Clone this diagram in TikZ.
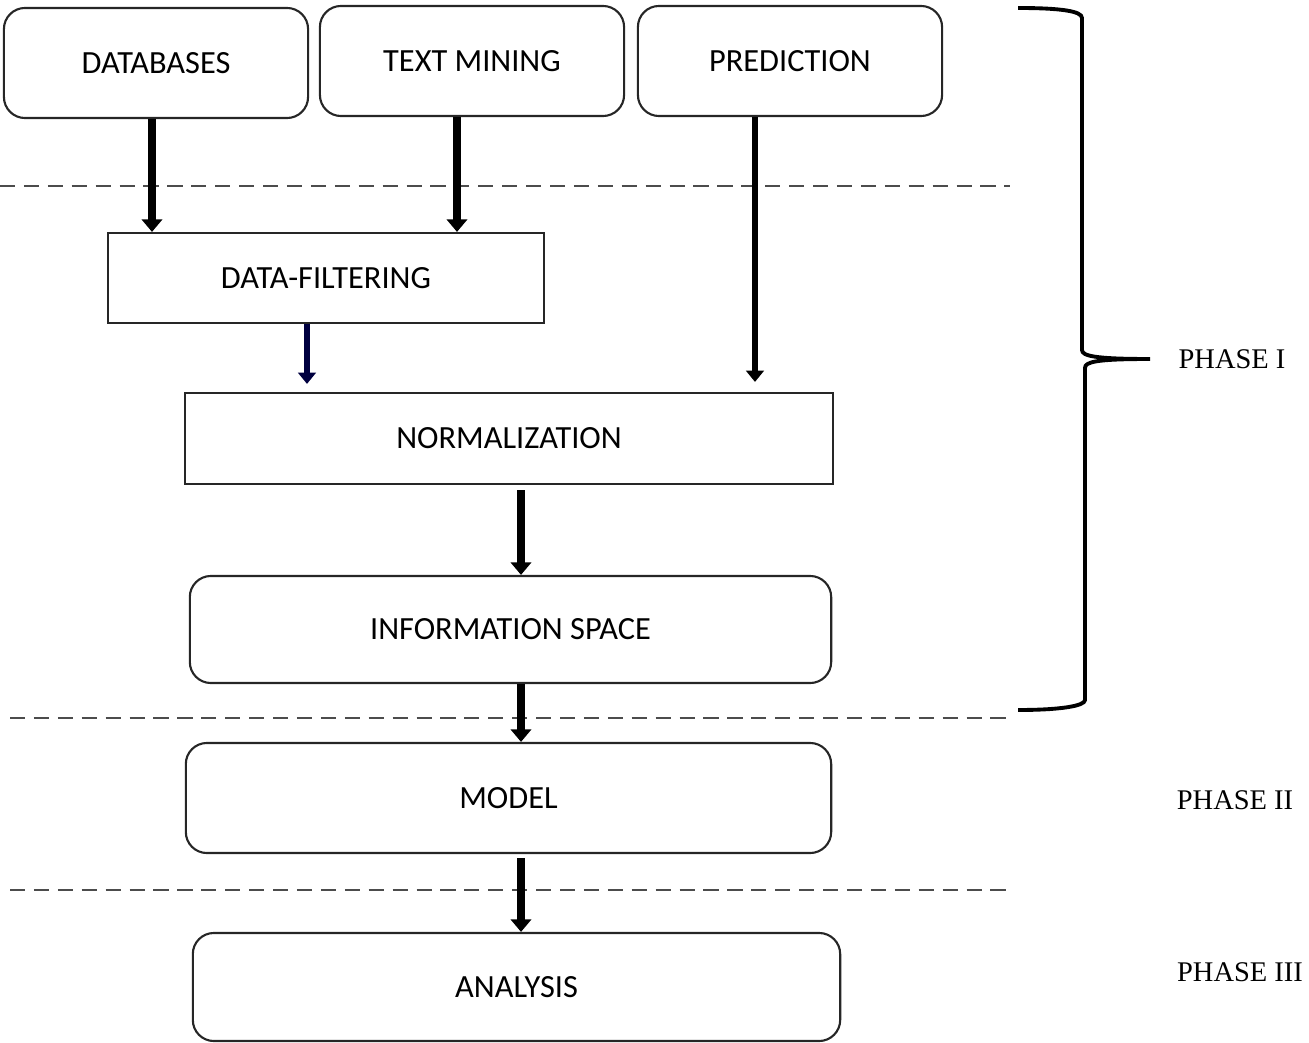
\documentclass[tikz,border=0pt]{standalone}
\usepackage{fontspec}
\setmainfont{Carlito}
\newfontfamily\phasefont{Liberation Serif}
\usetikzlibrary{arrows.meta}

\begin{document}
\begin{tikzpicture}[x=0.01cm,y=-0.01cm,
    round box/.style={draw=black!85,line width=0.6pt,rounded corners=6pt,inner sep=0pt,font=\fontsize{9.2}{11}\selectfont},
    flat box/.style={draw=black!85,line width=0.6pt,inner sep=0pt,font=\fontsize{9.2}{11}\selectfont},
    big arrow/.style={line width=2.3pt,-{Triangle[width=5.8pt,length=3.6pt]}},
    small arrow/.style={line width=1.6pt,-{Triangle[width=5pt,length=3.2pt]}},
    phase line/.style={draw=black!70,line width=0.75pt,dash pattern=on 4.3pt off 2.5pt},
    phase label/.style={font=\phasefont\fontsize{8.1}{10}\selectfont}]
    \useasboundingbox (0,0) rectangle (1309,1043);
    % sources
    \node[round box,minimum width=3.04cm,minimum height=1.10cm] (db) at (156,63) {DATABASES};
    \node[round box,minimum width=3.04cm,minimum height=1.10cm] (tm) at (472,61) {TEXT MINING};
    \node[round box,minimum width=3.04cm,minimum height=1.10cm] (pred) at (790,61) {PREDICTION};
    % processing
    \node[flat box,minimum width=4.36cm,minimum height=0.90cm] (filter) at (326,278) {DATA-FILTERING};
    \node[flat box,minimum width=6.48cm,minimum height=0.91cm] (norm) at (509,438.5) {NORMALIZATION};
    \node[round box,minimum width=6.41cm,minimum height=1.07cm] (info) at (510.5,629.5) {INFORMATION SPACE};
    \node[round box,minimum width=6.45cm,minimum height=1.10cm] (model) at (508.5,798) {MODEL};
    \node[round box,minimum width=6.47cm,minimum height=1.08cm] (ana) at (516.5,987) {ANALYSIS};
    % phase separators
    \coordinate (s1l) at (0,186);   \coordinate (s1r) at (1010,186);
    \coordinate (s2l) at (10,718);  \coordinate (s2r) at (1010,718);
    \coordinate (s3l) at (10,890);  \coordinate (s3r) at (1010,890);
    \draw[phase line] (s1l) -- (s1r);
    \draw[phase line] (s2l) -- (s2r);
    \draw[phase line] (s3l) -- (s3r);
    % arrows
    \draw[big arrow] ([xshift=-0.4mm]db.south) -- ([xshift=-0.4mm]db.south |- filter.north);
    \draw[big arrow] ([xshift=-1.5mm]tm.south) -- ([xshift=-1.5mm]tm.south |- filter.north);
    \draw[small arrow,shorten >=1mm] ([xshift=-3.5mm]pred.south) -- ([xshift=-3.5mm]pred.south |- norm.north);
    \draw[small arrow,draw=blue!25!black,shorten >=0.8mm] ([xshift=-1.9mm]filter.south) -- ([xshift=-1.9mm]filter.south |- norm.north);
    \draw[big arrow,shorten <=0.5mm] ([xshift=1.2mm]norm.south) -- ([xshift=1.2mm]norm.south |- info.north);
    \draw[big arrow] ([xshift=1.05mm]info.south) -- ([xshift=1.05mm]info.south |- model.north);
    \draw[big arrow,shorten <=0.4mm] ([xshift=1.25mm]model.south) -- ([xshift=1.25mm]model.south |- ana.north);
    % brace for phase I
    \draw[line width=1.1pt] (1018,8) .. controls (1060,8) and (1082,11) .. (1082,18) -- (1082,350)
        .. controls (1082,356) and (1095,359) .. (1150,359)
        .. controls (1095,359) and (1085,362) .. (1085,368) -- (1085,700)
        .. controls (1085,706) and (1060,710) .. (1018,710);
    \node[phase label] (p1) at (1232,359) {PHASE I};
    \node[phase label] (p2) at (1235,800) {PHASE II};
    \node[phase label] (p3) at (1240,972) {PHASE III};
\end{tikzpicture}
\end{document}
